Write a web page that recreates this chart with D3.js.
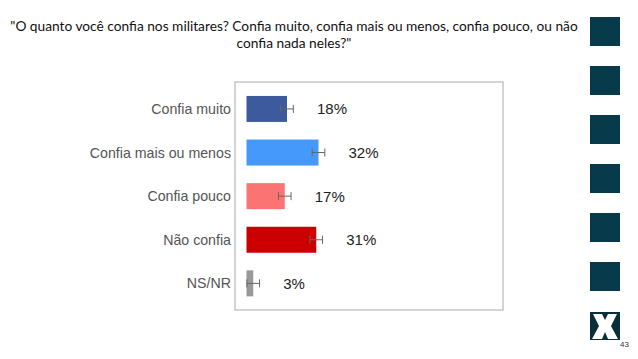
<!DOCTYPE html>
<html>
<head>
<meta charset="utf-8">
<script src="https://cdn.jsdelivr.net/npm/d3@7"></script>
<style>
  html, body { margin: 0; padding: 0; background: #fff; }
  svg { display: block; }
</style>
</head>
<body>
<div id="chart"></div>
<script>
// survey: trust in the military
const categories = ['Confia muito', 'Confia mais ou menos', 'Confia pouco', 'Não confia', 'NS/NR']
const values = [18, 32, 17, 31, 3]
const errors = [2.8, 2.8, 2.8, 2.8, 2.8]
const colors = ['#3c5a9c', '#4499fb', '#fb7373', '#cc0000', '#999999']
const titleLines = ['"O quanto você confia nos militares? Confia muito, confia mais ou menos, confia pouco, ou não', 'confia nada neles?"']

const width = 638
const height = 359
const frame = { left: 235, top: 82, right: 503, bottom: 310 }

const svg = d3.select('#chart').append('svg')
  .attr('width', width)
  .attr('height', height)

// Title
const title = svg.append('g').attr('class', 'title')
  .attr('font-family', 'Lato, "Open Sans", sans-serif')
  .attr('fill', '#111')
  .attr('text-anchor', 'middle')

title.selectAll('text')
  .data(titleLines)
  .enter()
  .append('text')
  .attr('x', 294)
  .attr('y', (d, i) => 31 + i * 17)
  .attr('font-size', '13px')
  .text(d => d)

// shrink font so the long line fits like the original
const first = title.select('text').node()
const w0 = first.getComputedTextLength()
const fs = 13 * 568 / w0
title.selectAll('text').attr('font-size', Math.min(14, fs) + 'px')

// Frame
svg.append('rect')
  .attr('x', frame.left)
  .attr('y', frame.top)
  .attr('width', frame.right - frame.left)
  .attr('height', frame.bottom - frame.top)
  .attr('fill', 'none')
  .attr('stroke', '#b8b8b8')
  .attr('stroke-width', 1.2)

// Scales
const x = d3.scaleLinear()
  .domain([0, 100])
  .range([246.5, 471.5])

const y = d3.scaleBand()
  .domain(categories)
  .range([78.5, 313.8])
  .paddingInner(0.404)
  .paddingOuter(0.4)

const rows = categories.map((c, i) => ({ name: c, value: values[i], err: errors[i], color: colors[i] }))

// Category labels
svg.append('g')
  .selectAll('text')
  .data(rows)
  .enter()
  .append('text')
  .attr('x', 231)
  .attr('y', d => y(d.name) + y.bandwidth() / 2 + 5)
  .attr('text-anchor', 'end')
  .attr('font-family', '"Liberation Sans", Arial, sans-serif')
  .attr('font-size', '14.2px')
  .attr('fill', '#555')
  .text(d => d.name)

// Bars
svg.append('g')
  .selectAll('rect')
  .data(rows)
  .enter()
  .append('rect')
  .attr('x', x(0))
  .attr('y', d => y(d.name))
  .attr('width', d => x(d.value) - x(0))
  .attr('height', y.bandwidth())
  .attr('fill', d => d.color)

// Error bars
const eb = svg.append('g')
  .attr('stroke', '#666')
  .attr('stroke-width', 1)
  .attr('fill', 'none')

rows.forEach(d => {
  const cy = y(d.name) + y.bandwidth() / 2
  const x1 = x(d.value - d.err)
  const x2 = x(d.value + d.err)
  eb.append('line').attr('x1', x1).attr('x2', x2).attr('y1', cy).attr('y2', cy)
  eb.append('line').attr('x1', x1).attr('x2', x1).attr('y1', cy - 4).attr('y2', cy + 4)
  eb.append('line').attr('x1', x2).attr('x2', x2).attr('y1', cy - 4).attr('y2', cy + 4)
})

// Value labels
svg.append('g')
  .selectAll('text')
  .data(rows)
  .enter()
  .append('text')
  .attr('x', d => x(d.value) + 30)
  .attr('y', d => y(d.name) + y.bandwidth() / 2 + 5.5)
  .attr('font-family', '"Liberation Sans", Arial, sans-serif')
  .attr('font-size', '15px')
  .attr('fill', '#222')
  .text(d => `${d.value}%`)

// Right side decoration
const squareY = [17, 66, 115, 164, 213, 262]
svg.append('g')
  .selectAll('rect')
  .data(squareY)
  .enter()
  .append('rect')
  .attr('x', 590)
  .attr('y', d => d)
  .attr('width', 30)
  .attr('height', 29)
  .attr('fill', '#073b4b')

// X logo
svg.append('rect')
  .attr('x', 590).attr('y', 312).attr('width', 30).attr('height', 28)
  .attr('fill', '#0b2f3a')
svg.append('path')
  .attr('d', 'M593,314 L602,314 L605,320 L608,314 L617,314 L611,326 L618,339 L608,339 L605,332 L602,339 L592,339 L599,326 Z')
  .attr('fill', '#fff')

svg.append('text')
  .attr('x', 620)
  .attr('y', 347)
  .attr('font-family', '"Liberation Sans", Arial, sans-serif')
  .attr('font-size', '8px')
  .attr('fill', '#333')
  .text('43')
</script>
</body>
</html>
